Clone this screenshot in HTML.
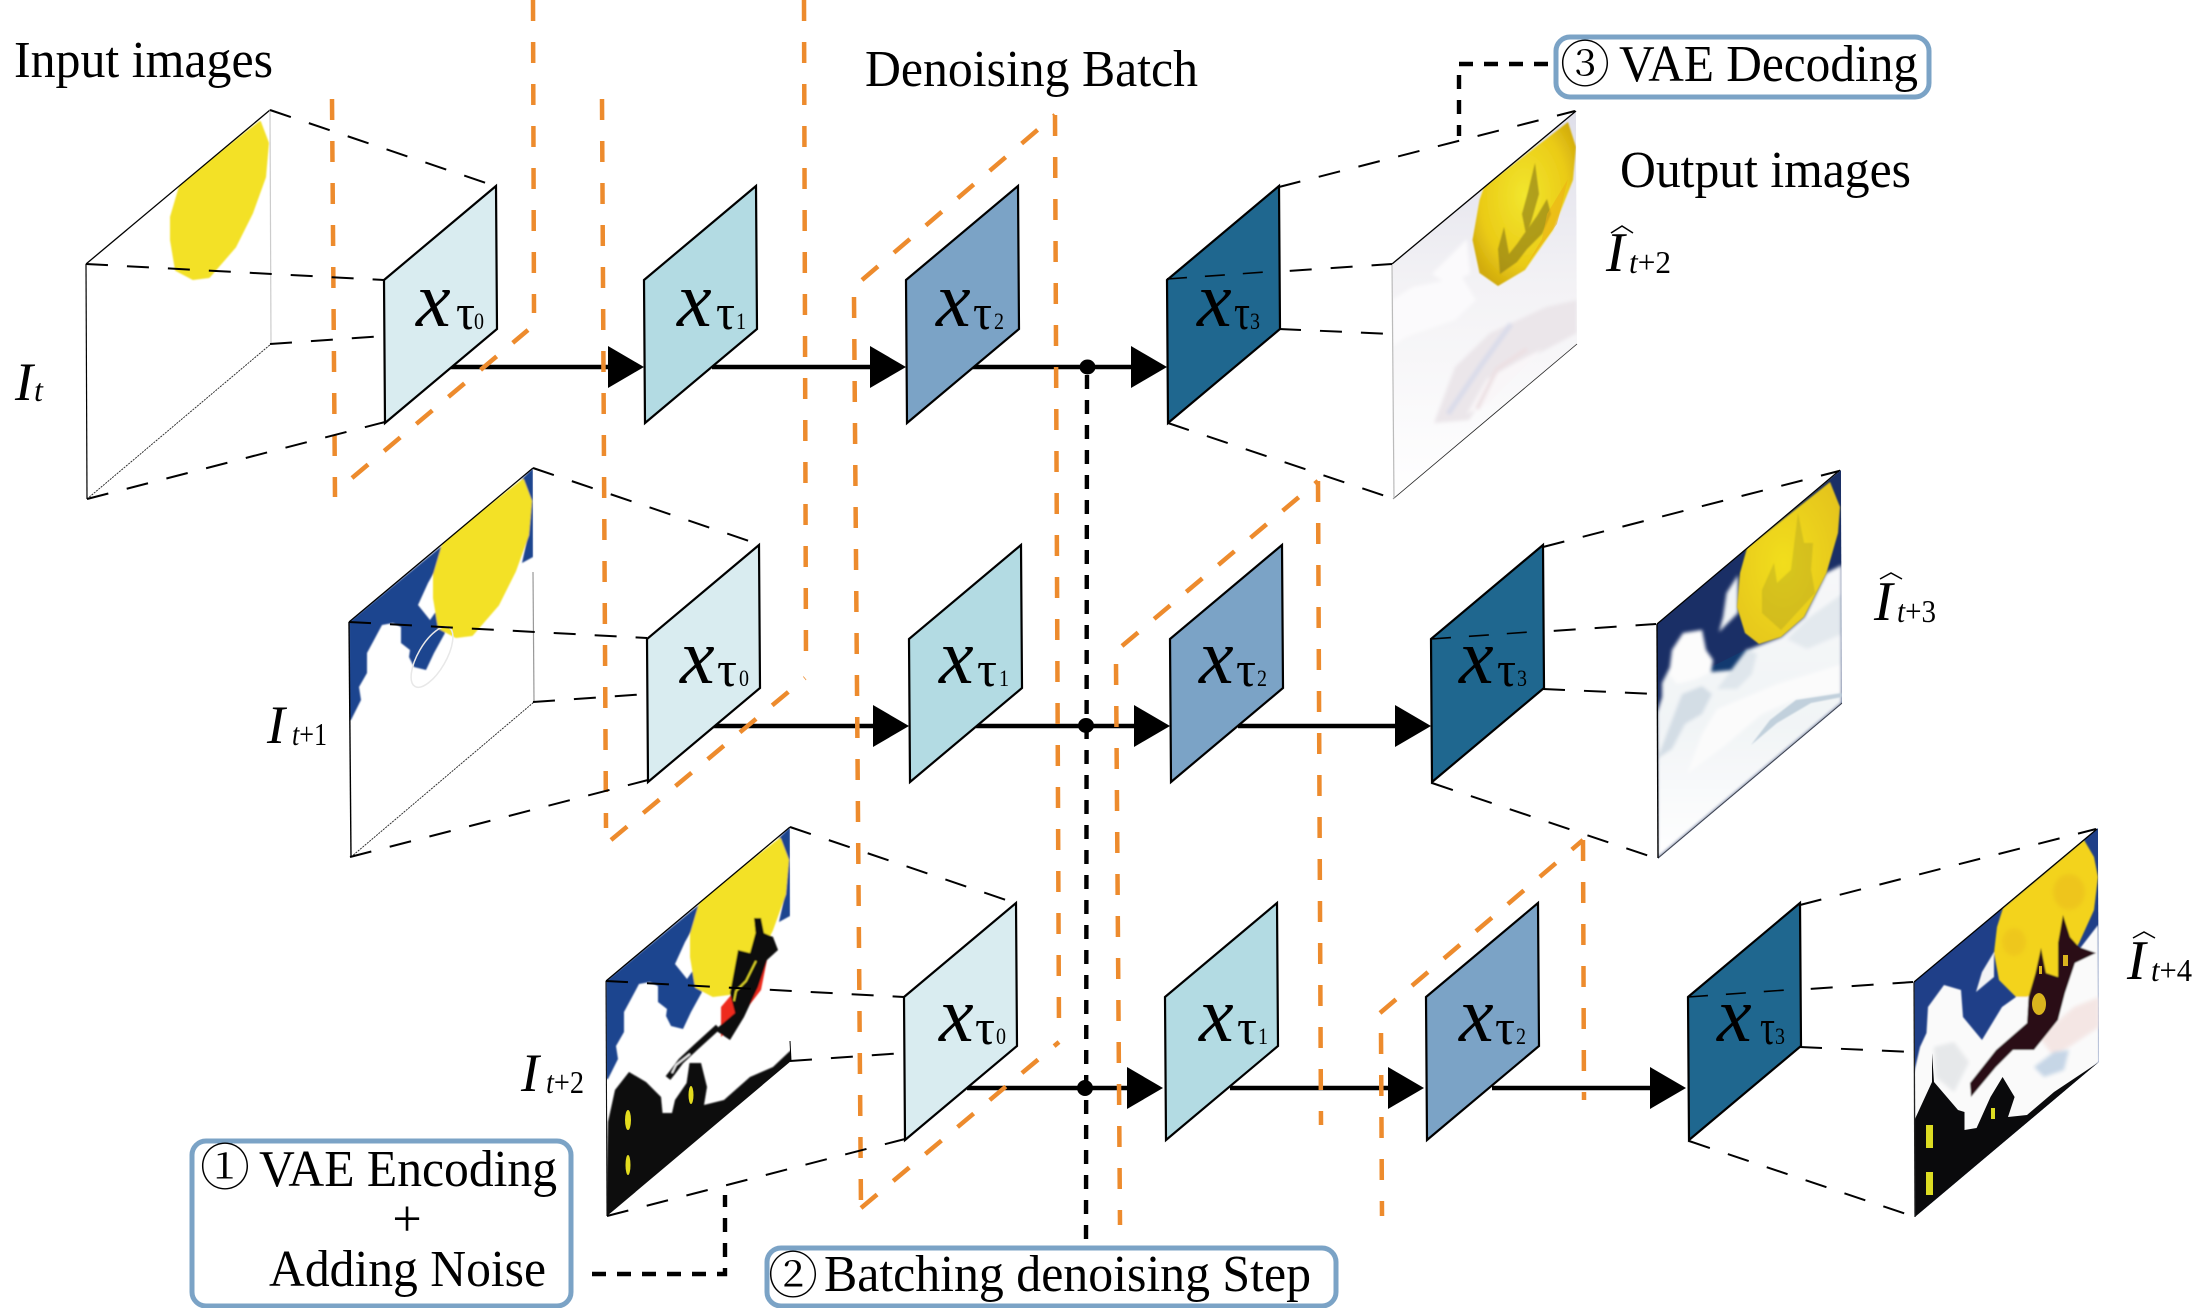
<!DOCTYPE html>
<html><head><meta charset="utf-8"><style>
html,body{margin:0;padding:0;background:#fff}
svg{display:block}
text{font-family:"Liberation Serif","Noto Serif CJK SC",serif;fill:#000}
.t{font-size:52px}
.i{font-style:italic}
.x{font-style:italic;font-size:78px}
.tau{font-size:50px}
.d{font-size:23px}
.big{font-style:italic;font-size:56px}
.sub{font-size:32px}
.or{fill:none;stroke:#ed8b2d;stroke-width:4.5;stroke-dasharray:21 21}
.bd{fill:none;stroke:#000;stroke-width:2;stroke-dasharray:22 19}
.box{fill:#fff;stroke:#7ba3c6;stroke-width:5}
.p{stroke:#000;stroke-width:2.2;stroke-linejoin:miter}
.con{fill:none;stroke:#000;stroke-width:4.4;stroke-dasharray:14 11}
.ar{stroke:#000;stroke-width:4.5;fill:none}
</style></head><body>
<svg xmlns="http://www.w3.org/2000/svg" width="2192" height="1308" viewBox="0 0 2192 1308">
<defs>
<filter id="b1" x="-10%" y="-10%" width="120%" height="120%"><feGaussianBlur stdDeviation="0.7"/></filter>
<filter id="b2" x="-10%" y="-10%" width="120%" height="120%"><feGaussianBlur stdDeviation="1.8"/></filter>
<clipPath id="cp"><polygon points="0,0 184,-154 185,80 1,235"/></clipPath>
<radialGradient id="m1" cx=".5" cy=".45" r=".6"><stop offset="0" stop-color="#f2e62e"/><stop offset=".7" stop-color="#eacb16"/><stop offset="1" stop-color="#d2ac0e"/></radialGradient>
<radialGradient id="m2" cx=".45" cy=".5" r=".65"><stop offset="0" stop-color="#f2de1e"/><stop offset="1" stop-color="#e4c41a"/></radialGradient>
<linearGradient id="o1" x1="0" y1="0" x2="0" y2="1"><stop offset="0" stop-color="#dfdfea"/><stop offset=".45" stop-color="#f3f2f5"/><stop offset="1" stop-color="#ffffff"/></linearGradient>
<linearGradient id="o2" x1="0" y1="0" x2="0" y2="1"><stop offset="0" stop-color="#f6f7f9"/><stop offset=".55" stop-color="#f1f4f6"/><stop offset="1" stop-color="#ffffff"/></linearGradient>
<polygon id="blob" points="174,-142 182,-121 179,-87 166,-51 149,-17 123,13 107,15 90,6 85,-24 85,-47 95,-81" fill="#f3e125" stroke="#f3e125" stroke-width="2" stroke-linejoin="round"/>
<g id="sky">
<polygon fill="#1f448f" points="0,0 94,-77 88,-55 79,-39 69,-17 81,-2 88,-12 96,11 85,31 77,48 65,45 60,35 61,28 52,21 52,5 44,1 33,3 25,18 18,31 18,51 10,65 12,78 2,98 0,98"/>
<polygon fill="#1f448f" points="172,-142 184,-154 184,-65 173,-59 178,-82 182,-119"/>
</g>
<polygon id="pan" points="0,0 112,-94 113,49 1,143"/>
<g id="lw" class="bd">
<path d="M184,-154L409,-78"/><path d="M0,0L298,16"/><path d="M184,80L298,72"/><path d="M1,235L299,158"/>
</g>
<g id="rw" class="bd">
<path d="M112,-92L408,-168"/><path d="M0,0L225,-15"/><path d="M112,50L225,55"/><path d="M1,144L227,220"/>
</g>
<polygon id="head" points="-36,-21 0,0 -36,21" fill="#000"/>
</defs>

<!-- arrows -->
<g class="ar">
<path d="M450,367H612"/><path d="M712,367H875"/><path d="M972,367H1135"/>
<path d="M712,726H876"/><path d="M976,726H1140"/><path d="M1238,726H1400"/>
<path d="M967,1088H1130"/><path d="M1230,1088H1392"/><path d="M1492,1088H1654"/>
</g>

<!-- orange batches -->
<path class="or" d="M332,99L335,497"/><path class="or" d="M352,478L528,330"/><path class="or" d="M533,0L534,313"/>
<path class="or" d="M602,99L606,828"/><path class="or" d="M611,840L805,678"/><path class="or" d="M804,0L806,664"/>
<path class="or" d="M854,297L861,1209"/><path class="or" d="M861,1208L1059,1042"/><path class="or" d="M1055,115L1059,1032"/><path class="or" d="M862,280L1055,115"/>
<path class="or" d="M1116,664L1120,1225"/><path class="or" d="M1122,646L1318,481"/><path class="or" d="M1318,481L1321,1125"/>
<path class="or" d="M1381,1033L1382,1216"/><path class="or" d="M1380,1013L1583,840"/><path class="or" d="M1583,840L1584,1100"/>

<!-- centre connector -->
<path class="con" d="M1087,375L1086,1245"/>
<ellipse cx="1087.5" cy="367" rx="8" ry="7.5"/><ellipse cx="1086" cy="725.5" rx="8" ry="7.5"/><ellipse cx="1085" cy="1088" rx="8" ry="8"/>

<!-- input 1 -->
<g transform="translate(86,264)">
<g clip-path="url(#cp)"><polygon points="0,0 184,-154 185,80 1,235" fill="#fff"/><use href="#blob" filter="url(#b1)"/></g>
<path d="M0,0L184,-154" stroke="#000" stroke-width="1.3" fill="none"/><path d="M184,-154L185,80" stroke="#ccc" stroke-width="1.2" fill="none"/><path d="M0,0L1,235" stroke="#000" stroke-width="1.2" fill="none"/><path d="M1,235L185,80" stroke="#222" stroke-width=".9" fill="none" stroke-dasharray="2 1"/>
<use href="#lw"/>
</g>

<!-- input 2 -->
<g transform="translate(349,622)">
<g clip-path="url(#cp)"><polygon points="0,0 184,-154 185,80 1,235" fill="#fff"/><g filter="url(#b1)"><use href="#sky"/><use href="#blob"/></g>
<ellipse cx="83" cy="35" rx="14" ry="34" transform="rotate(30 83 35)" fill="none" stroke="#e8e8e8" stroke-width="1.5"/></g>
<path d="M0,0L184,-154" stroke="#000" stroke-width="1.3" fill="none"/><path d="M184,-50L185,80" stroke="#999" stroke-width="1.2" fill="none"/><path d="M0,0L2,235" stroke="#000" stroke-width="1.4" fill="none"/><path d="M2,235L185,80" stroke="#222" stroke-width=".9" fill="none" stroke-dasharray="2 1"/>
<use href="#lw"/>
</g>

<!-- input 3 -->
<g transform="translate(606,981)">
<g clip-path="url(#cp)"><polygon points="0,0 184,-154 185,80 1,235" fill="#fff"/><g filter="url(#b1)"><use href="#sky"/><use href="#blob"/>
<polygon fill="#ee2a1f" points="161,-21 155,9 132,39 115,56 115,26 138,-1"/>
<polygon fill="#0a0a0a" points="148,-63 155,-63 158,-48 167,-44 172,-31 161,-21 152,6 138,36 124,59 109,49 129,32 124,12 132,-31 144,-28 149.5,-48"/>
<polyline points="112,46 90,66 75,80 66,92 62,97" fill="none" stroke="#0a0a0a" stroke-width="6"/>
<polyline points="150,-20 140,0 130,10 128,20" fill="none" stroke="#e8df2a" stroke-width="1.6"/>
<polyline points="84,73 70,84 66,92" fill="none" stroke="#fff" stroke-width="1.5"/>
<polygon fill="#0a0a0a" points="2,141 9,109 23,91 40,101 55,116 56.5,132 66,132 69,119 80.6,102 83.5,82 95,82 101,106 98,124 118,119 144,96 167,86 185,69 186,82 2,236 0,236"/>
</g>
<ellipse cx="22" cy="139" rx="3" ry="10" fill="#e3dc1e"/><ellipse cx="22" cy="184" rx="2.5" ry="10" fill="#e3dc1e"/><ellipse cx="85" cy="114" rx="2.5" ry="9" fill="#e3dc1e"/>
</g>
<path d="M0,0L184,-154" stroke="#000" stroke-width="1.3" fill="none"/><path d="M184,60L185,80" stroke="#000" fill="none"/><path d="M0,0L1,235" stroke="#111" stroke-width="1.1" fill="none"/>
<use href="#lw"/>
</g>

<!-- outputs -->
<g transform="translate(1392,264)">
<g clip-path="url(#cp)">
<polygon points="0,-10 184,-154 185,80 1,235" fill="url(#o1)"/>
<g filter="url(#b2)">
<polygon fill="#fbfafc" points="21,23 70,13 84,36 63,56 14,73 0,83 0,36"/>
<polygon fill="#fbfafc" points="60,-10 75,-25 78,10 55,20 40,10"/>
<polygon fill="#ebe6ea" points="42,159 63,103 98,69 154,43 185,36 185,69 140,93 105,113 77,156"/>
<polygon fill="#f9f6f8" points="75,150 95,115 125,98 150,85 120,115 95,140"/>
<path d="M56,150L90,100L119,60" fill="none" stroke="#d9dbea" stroke-width="5"/>
<path d="M85,145L105,105L135,85" fill="none" stroke="#ecdfe2" stroke-width="4"/>
</g>
<polygon fill="url(#m1)" filter="url(#b1)" points="176,-142 184,-117 181,-84 161,-34 133,6 106,22 87.5,9 80.5,-24 87.5,-64 92,-77"/>
<g filter="url(#b1)" fill="#8e7d14" opacity=".65">
<polygon points="143,-101 147,-70 139,-42 134,-30 130,-50 136,-72"/>
<polygon points="155,-65 159,-50 150,-30 135,-15 125,-2 108,10 106,-15 112,-37 117,-10 125,-20 132,-30 145,-48"/>
</g>
<polygon fill="#ecaf14" opacity=".55" points="155,-50 176,-85 165,-40 135,0 150,-25"/>
</g>
<path d="M0,0L184,-153" stroke="#000" stroke-width="1.3" fill="none"/><path d="M1,235L185,80" stroke="#222" stroke-width=".8" fill="none"/><path d="M0,0L2,235" stroke="#bbb" stroke-width="1.2" fill="none"/>
</g>
<use href="#rw" transform="translate(1167,279)"/>

<g transform="translate(1657,624)">
<g clip-path="url(#cp)">
<polygon points="0,0 184,-154 185,80 1,235" fill="#1a2f66"/>
<polygon points="0,90 70,60 125,20 90,25 50,45" fill="#123a70"/>
<g filter="url(#b2)">
<polygon fill="url(#o2)" points="0,89 5,73 5,59 13,43 15,26 26,9 45,6 49,26 56,36 54,48 75,46 90,26 124,13 147,-7 169,-51 185,-59 185,79 1,234 0,234"/>
<polygon fill="#f1f4f6" points="81,-49 69.5,-31 66,-7 62,8 81,-11"/>
<polygon fill="#fcfcfc" points="26,9 45,6 49,26 56,36 54,48 40,55 20,60 12,50 15,26"/>
<polygon fill="#d3dde5" points="0,135 25,70 45,62 55,70 45,90 28,100 15,125"/>
<polygon fill="#dfe6ec" points="60,65 90,25 100,30 95,50 80,65"/>
<polygon fill="#fbfbfb" points="60,85 120,60 185,40 185,68 140,75 105,90 70,120 30,150 45,110"/>
<polygon fill="#e3e9ee" points="130,15 150,-5 185,-30 185,10 150,25"/>
</g>
<polygon fill="#c1d0dc" filter="url(#b1)" points="94,121 113,96 139,76 185,69 185,73 154,79 120,99"/>
<polygon fill="url(#m2)" filter="url(#b1)" points="173,-142 183,-117 181,-91 169.5,-51 147,-7 124,13 102,20 88,9 80,-17 83,-51 90,-76"/>
<polygon fill="#a89b22" opacity=".35" filter="url(#b1)" points="105,-34 117,-61 120,-41 134,-54 141,-111 147,-81 156,-81 154,-54 158,-31 124,6 105,-11"/>
</g>
<path d="M0,0L183,-154" stroke="#000" stroke-width="1.3" fill="none"/><path d="M1,234L185,79" stroke="#333" stroke-width=".7" fill="none"/><path d="M0,0L1,234" stroke="#000" stroke-width="1.4" fill="none"/>
</g>
<use href="#rw" transform="translate(1431,639)"/>

<g transform="translate(1914,982)">
<g clip-path="url(#cp)">
<polygon points="0,0 184,-154 185,80 1,235" fill="#1f3f88"/>
<g filter="url(#b1)">
<polygon fill="#fafafa" points="0,91 6,65 12.5,51 14,25 30,3 47,8 49,35 68,58 88,25 102,15 144,-5 184,-57 185,80 1,235 0,235"/>
<polygon fill="#f2f3f4" points="80,-30 68,-10 62,10 80,-5"/>
<polygon fill="#e6e8ea" filter="url(#b2)" points="20,65 40,60 55,80 40,110 22,95"/>
<polygon fill="#f4e6e4" filter="url(#b2)" points="125,55 160,25 185,15 185,45 140,75"/>
<polygon fill="#c6d6e6" filter="url(#b2)" points="120,85 140,70 155,68 150,88 130,95"/>
<polygon fill="#f3d31f" points="170,-142 180,-125 184,-105 180,-72 165,-39 144,-5 113,15 102,15 85,-2 80,-29 83,-55 89,-74"/>
<ellipse cx="155" cy="-90" rx="16" ry="18" fill="#ebbd1e" opacity=".6" filter="url(#b2)"/>
<ellipse cx="100" cy="-40" rx="12" ry="14" fill="#ebbd1e" opacity=".5" filter="url(#b2)"/>
<polygon fill="#2a0f12" points="56,101 82,68 113,41 114.5,15 121.5,-9 127,-34 132,-9 144,-5 144,-39 149,-67 156,-45 165,-35 182,-29 161,-19 151,11 144,38 120,68 99,68 82,85 57,115"/>
</g>
<ellipse cx="125" cy="22" rx="7" ry="11" fill="#d9b41e"/>
<rect x="149" y="-27" width="5" height="11" fill="#d9b41e"/>
<rect x="125" y="-16" width="3" height="8" fill="#d9b41e"/>
<polygon fill="#0a0a0c" points="0.5,138 18,100 18,71 20,100 44,128 50.5,130 50.5,148 62.6,146 76.5,115 88.6,95 100.6,115 94,135 113,133 140,110 185,80 1,235 0,235"/>
<rect x="12" y="143" width="7" height="23" fill="#dcdc22"/><rect x="12" y="190" width="7" height="23" fill="#dcdc22"/><rect x="77" y="126" width="4" height="11" fill="#dcdc22"/>
</g>
<path d="M0,0L183,-153" stroke="#000" stroke-width="1.3" fill="none"/><path d="M0,0L1,235" stroke="#222" stroke-width="1.3" fill="none"/>
</g>
<use href="#rw" transform="translate(1688,997)"/>

<!-- panels -->
<g class="p">
<use href="#pan" transform="translate(384,280)" fill="#d9ecf0"/>
<use href="#pan" transform="translate(644,280)" fill="#b3dbe3"/>
<use href="#pan" transform="translate(906,280)" fill="#7ba3c6"/>
<use href="#pan" transform="translate(1167,280)" fill="#1f678f"/>
<use href="#pan" transform="translate(647,639)" fill="#d9ecf0"/>
<use href="#pan" transform="translate(909,639)" fill="#b3dbe3"/>
<use href="#pan" transform="translate(1170,639)" fill="#7ba3c6"/>
<use href="#pan" transform="translate(1431,639)" fill="#1f678f"/>
<use href="#pan" transform="translate(904,997)" fill="#d9ecf0"/>
<use href="#pan" transform="translate(1165,997)" fill="#b3dbe3"/>
<use href="#pan" transform="translate(1426,997)" fill="#7ba3c6"/>
<use href="#pan" transform="translate(1688,997)" fill="#1f678f"/>
</g>
<!-- dashes over dark panels -->
<path d="M1167,279L1280,271" stroke="#000" stroke-width="1.6" stroke-dasharray="20 18" fill="none"/>
<path d="M1431,639L1544,631" stroke="#000" stroke-width="1.6" stroke-dasharray="20 18" fill="none"/>
<path d="M1688,997L1800,989" stroke="#000" stroke-width="1.6" stroke-dasharray="20 18" fill="none"/>

<!-- heads -->
<use href="#head" x="644" y="367"/><use href="#head" x="906" y="367"/><use href="#head" x="1167" y="367"/>
<use href="#head" x="909" y="726"/><use href="#head" x="1170" y="726"/><use href="#head" x="1431" y="726"/>
<use href="#head" x="1163" y="1088"/><use href="#head" x="1424" y="1088"/><use href="#head" x="1686" y="1088"/>

<!-- panel labels -->
<g>
<text class="x" x="416" y="326">x</text><text class="tau" x="456" y="329" textLength="19" lengthAdjust="spacingAndGlyphs">τ</text><text class="d" x="474" y="329" textLength="10" lengthAdjust="spacingAndGlyphs">0</text>
<text class="x" x="677" y="326">x</text><text class="tau" x="716" y="329" textLength="19" lengthAdjust="spacingAndGlyphs">τ</text><text class="d" x="736" y="329" textLength="10" lengthAdjust="spacingAndGlyphs">1</text>
<text class="x" x="936" y="326">x</text><text class="tau" x="973" y="329" textLength="19" lengthAdjust="spacingAndGlyphs">τ</text><text class="d" x="994" y="329" textLength="10" lengthAdjust="spacingAndGlyphs">2</text>
<text class="x" x="1197" y="326">x</text><text class="tau" x="1234" y="329" textLength="16" lengthAdjust="spacingAndGlyphs">τ</text><text class="d" x="1250" y="329" textLength="10" lengthAdjust="spacingAndGlyphs">3</text>
<text class="x" x="680" y="683">x</text><text class="tau" x="717" y="686" textLength="20" lengthAdjust="spacingAndGlyphs">τ</text><text class="d" x="739" y="686" textLength="10" lengthAdjust="spacingAndGlyphs">0</text>
<text class="x" x="939" y="683">x</text><text class="tau" x="977" y="686" textLength="20" lengthAdjust="spacingAndGlyphs">τ</text><text class="d" x="999" y="686" textLength="10" lengthAdjust="spacingAndGlyphs">1</text>
<text class="x" x="1199" y="683">x</text><text class="tau" x="1236" y="686" textLength="20" lengthAdjust="spacingAndGlyphs">τ</text><text class="d" x="1257" y="686" textLength="10" lengthAdjust="spacingAndGlyphs">2</text>
<text class="x" x="1459" y="683">x</text><text class="tau" x="1497" y="686" textLength="19" lengthAdjust="spacingAndGlyphs">τ</text><text class="d" x="1517" y="686" textLength="10" lengthAdjust="spacingAndGlyphs">3</text>
<text class="x" x="939" y="1041">x</text><text class="tau" x="975" y="1044" textLength="20" lengthAdjust="spacingAndGlyphs">τ</text><text class="d" x="996" y="1044" textLength="10" lengthAdjust="spacingAndGlyphs">0</text>
<text class="x" x="1199" y="1041">x</text><text class="tau" x="1237" y="1044" textLength="20" lengthAdjust="spacingAndGlyphs">τ</text><text class="d" x="1258" y="1044" textLength="10" lengthAdjust="spacingAndGlyphs">1</text>
<text class="x" x="1459" y="1041">x</text><text class="tau" x="1495" y="1044" textLength="20" lengthAdjust="spacingAndGlyphs">τ</text><text class="d" x="1516" y="1044" textLength="10" lengthAdjust="spacingAndGlyphs">2</text>
<text class="x" x="1717" y="1041">x</text><text class="tau" x="1760" y="1044" textLength="15" lengthAdjust="spacingAndGlyphs">τ</text><text class="d" x="1775" y="1044" textLength="10" lengthAdjust="spacingAndGlyphs">3</text>
</g>

<!-- titles -->
<text class="t" x="14" y="77" textLength="259" lengthAdjust="spacingAndGlyphs">Input images</text>
<text class="t" x="865" y="86" textLength="333" lengthAdjust="spacingAndGlyphs">Denoising Batch</text>
<text class="t" x="1620" y="187" textLength="291" lengthAdjust="spacingAndGlyphs">Output images</text>

<!-- symbols -->
<text class="big" x="15" y="400" style="font-size:54px">I</text><text class="sub i" x="34" y="401">t</text>
<text class="big" x="267" y="743" style="font-size:54px">I</text><text class="sub" x="292" y="745" textLength="35" lengthAdjust="spacingAndGlyphs"><tspan class="i">t</tspan>+1</text>
<text class="big" x="521" y="1091" style="font-size:54px">I</text><text class="sub" x="546" y="1093" textLength="38" lengthAdjust="spacingAndGlyphs"><tspan class="i">t</tspan>+2</text>
<text class="big" x="1606" y="271">I</text><text class="sub" x="1629" y="273" textLength="42" lengthAdjust="spacingAndGlyphs"><tspan class="i">t</tspan>+2</text>
<polyline points="1611,233 1622,226 1633,233" fill="none" stroke="#000" stroke-width="1.5"/>
<text class="big" x="1874" y="620">I</text><text class="sub" x="1897" y="622" textLength="39" lengthAdjust="spacingAndGlyphs"><tspan class="i">t</tspan>+3</text>
<polyline points="1880,579 1891,573 1902,579" fill="none" stroke="#000" stroke-width="1.5"/>
<text class="big" x="2127" y="979">I</text><text class="sub" x="2151" y="981" textLength="41" lengthAdjust="spacingAndGlyphs"><tspan class="i">t</tspan>+4</text>
<polyline points="2133,938 2144,932 2155,938" fill="none" stroke="#000" stroke-width="1.5"/>

<!-- boxes -->
<rect class="box" x="1556" y="37" width="373" height="60" rx="14"/>
<text x="1585" y="82" text-anchor="middle" style="font-size:50px">③</text>
<text class="t" x="1619" y="81" textLength="299" lengthAdjust="spacingAndGlyphs">VAE Decoding</text>
<path class="con" d="M1548,64H1459V136"/>

<rect class="box" x="192" y="1141" width="379" height="165" rx="14"/>
<text x="225" y="1185" text-anchor="middle" style="font-size:50px">①</text>
<text class="t" x="259" y="1186" textLength="298" lengthAdjust="spacingAndGlyphs">VAE Encoding</text>
<text class="t" x="407" y="1236" text-anchor="middle">+</text>
<text class="t" x="269" y="1286" textLength="277" lengthAdjust="spacingAndGlyphs">Adding Noise</text>
<path class="con" d="M592,1274H725V1195"/>

<rect class="box" x="767" y="1248" width="569" height="58" rx="14"/>
<text x="793" y="1293" text-anchor="middle" style="font-size:50px">②</text>
<text class="t" x="824" y="1291" textLength="487" lengthAdjust="spacingAndGlyphs">Batching denoising Step</text>
</svg>
</body></html>
